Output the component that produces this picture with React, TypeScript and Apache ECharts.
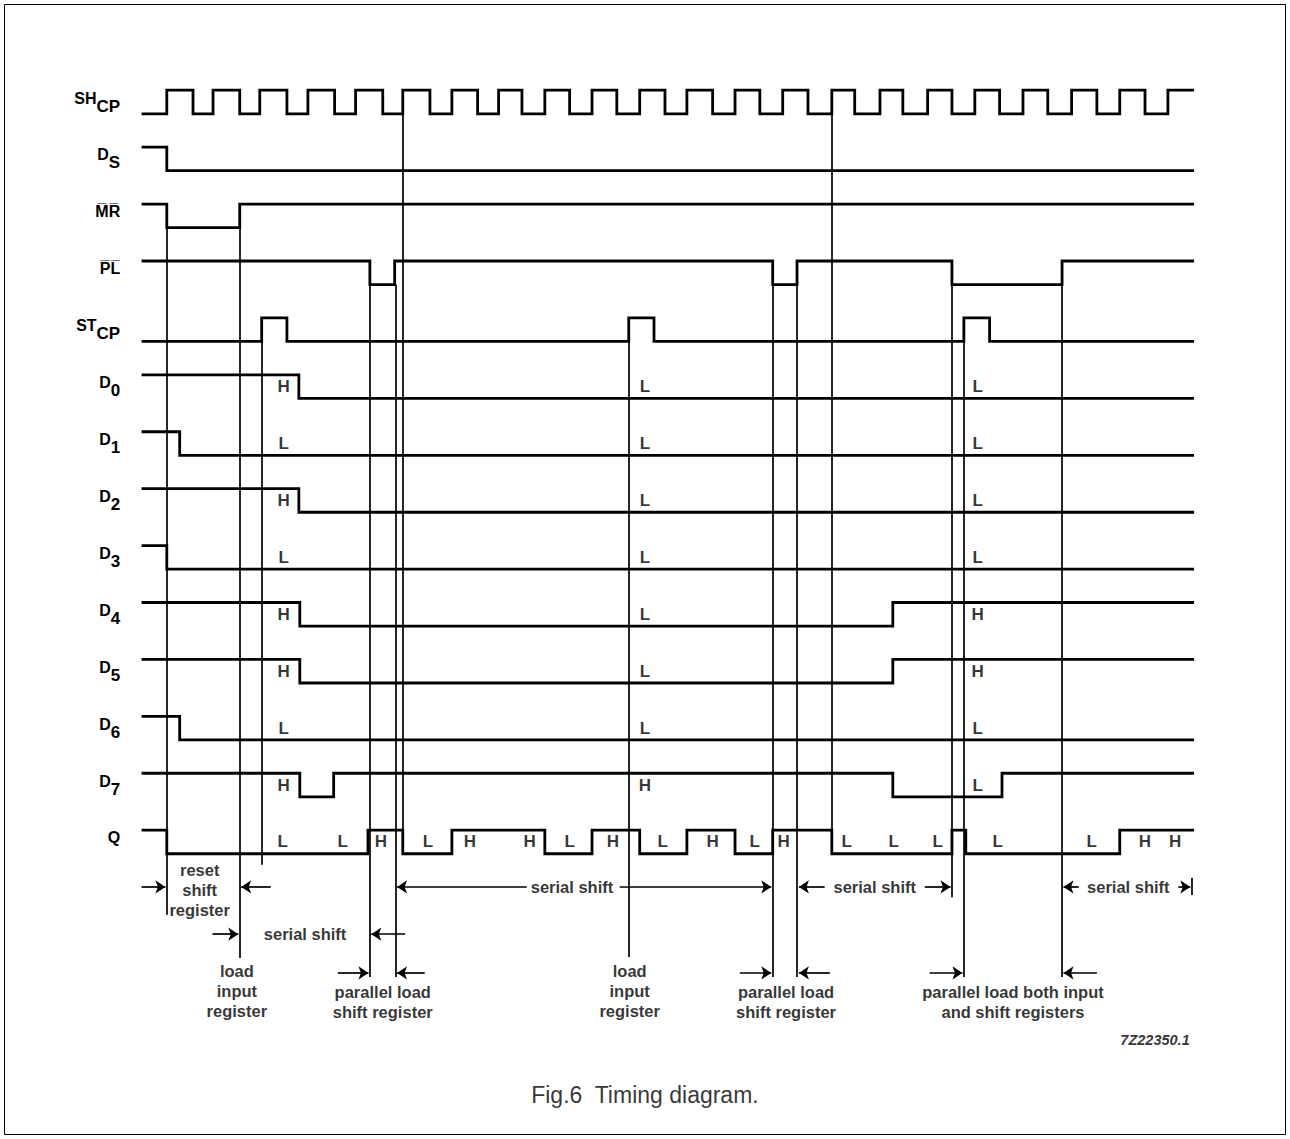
import React, { useEffect, useRef } from 'react';
import * as echarts from 'echarts';

// ---------- time / row layout (time in clock periods, rows = signal index) ----------
const T_START = 0.5;
const T_END = 22.52;
const AMP = 0.207;

const SIGNAL_LABELS = [
  '{m|SH}{s|CP}',
  '{m|D}{s|S}',
  '{m|M\u0305R\u0305}',
  '{m|P\u0305L\u0305}',
  '{m|ST}{s|CP}',
  '{m|D}{s|0}',
  '{m|D}{s|1}',
  '{m|D}{s|2}',
  '{m|D}{s|3}',
  '{m|D}{s|4}',
  '{m|D}{s|5}',
  '{m|D}{s|6}',
  '{m|D}{s|7}',
  '{m|Q}',
];

const START_LEVELS = [0, 1, 1, 1, 0, 1, 1, 1, 1, 1, 1, 1, 1, 1];

const CLOCK_RISES = [1, 1.97, 2.95, 3.96, 4.96, 5.95, 6.98, 7.96, 8.93, 9.92, 10.92, 11.91, 12.92, 13.92, 14.95, 15.96, 16.96, 17.95, 18.96, 19.98, 20.99, 22.0];
const CLOCK_FALLS = [1.55, 2.53, 3.52, 4.52, 5.53, 6.52, 7.52, 8.45, 9.45, 10.44, 11.45, 12.45, 13.44, 14.45, 15.43, 16.44, 17.47, 18.47, 19.48, 20.51, 21.52];
const DS_EDGES = [1.0];
const MR_EDGES = [1.0, 2.53];
const PL_EDGES = [5.26, 5.78, 13.71, 14.22, 17.47, 19.78];
const STCP_EDGES = [2.99, 3.52, 10.69, 11.22, 17.72, 18.26];
const D0_EDGES = [3.77];
const D1_EDGES = [1.27];
const D2_EDGES = [3.77];
const D3_EDGES = [1.0];
const D4_EDGES = [3.79, 16.23];
const D5_EDGES = [3.79, 16.23];
const D6_EDGES = [1.27];
const D7_EDGES = [3.79, 4.5, 16.23, 18.52];
const Q_EDGES = [1.0, 5.22, 5.95, 6.98, 8.93, 9.92, 10.92, 11.91, 12.92, 13.71, 14.95, 17.47, 17.76, 20.99];

const HL_COLUMNS = [3.45, 11.03, 18.01];
const HL_ROWS = [5, 6, 7, 8, 9, 10, 11, 12];
const HL_VALUES = [
  ['H', 'L', 'L'],
  ['L', 'L', 'L'],
  ['H', 'L', 'L'],
  ['L', 'L', 'L'],
  ['H', 'L', 'H'],
  ['H', 'L', 'H'],
  ['L', 'L', 'L'],
  ['H', 'H', 'L'],
];
const Q_ROW = 13;
const Q_LABEL_TIMES = [3.43, 4.69, 5.49, 6.48, 7.36, 8.61, 9.45, 10.36, 11.4, 12.45, 13.33, 13.94, 15.26, 16.25, 17.17, 18.43, 20.4, 21.52, 22.15];
const Q_LABEL_VALUES = ['L', 'L', 'H', 'L', 'H', 'H', 'L', 'H', 'L', 'H', 'L', 'H', 'L', 'L', 'L', 'L', 'L', 'H', 'H'];

// vertical reference lines: [time, rowTop, rowBottom]
const MARKER_LINES = [
  [1.0, 2.207, 14.28],
  [2.53, 2.207, 15.04],
  [2.99, 4.207, 13.4],
  [5.26, 3.207, 15.37],
  [5.8, 3.207, 15.37],
  [5.95, 0.207, 12.79],
  [10.69, 4.207, 15.02],
  [13.71, 3.207, 15.37],
  [14.22, 3.207, 15.37],
  [14.95, 0.207, 12.79],
  [17.47, 3.207, 13.97],
  [17.72, 4.207, 15.37],
  [19.78, 3.207, 15.37],
  [22.5, 13.63, 13.93],
];

// arrows: [timeFrom, timeTo (head), row]
const ARROWS = [
  [0.47, 0.97, 13.79],
  [3.18, 2.56, 13.79],
  [1.96, 2.5, 14.62],
  [6.0, 5.29, 14.62],
  [4.59, 5.23, 15.3],
  [6.41, 5.83, 15.3],
  [8.55, 5.83, 13.79],
  [10.5, 13.68, 13.79],
  [14.8, 14.26, 13.79],
  [16.9, 17.44, 13.79],
  [20.13, 19.81, 13.79],
  [22.22, 22.47, 13.79],
  [13.02, 13.68, 15.3],
  [14.91, 14.26, 15.3],
  [17.0, 17.69, 15.3],
  [20.51, 19.81, 15.3],
];

// annotation texts: [time, row, text]
const NOTES = [
  [1.69, 13.84, 'reset\nshift\nregister'],
  [3.9, 14.62, 'serial shift'],
  [2.47, 15.62, 'load\ninput\nregister'],
  [5.53, 15.81, 'parallel load\nshift register'],
  [9.5, 13.79, 'serial shift'],
  [10.71, 15.62, 'load\ninput\nregister'],
  [13.99, 15.81, 'parallel load\nshift register'],
  [15.85, 13.79, 'serial shift'],
  [21.17, 13.79, 'serial shift'],
  [18.75, 15.81, 'parallel load both input\nand shift registers'],
];
const CODE_NOTE = [21.73, 16.48, '7Z22350.1'];
const CAPTION = [11.03, 17.45, 'Fig.6  Timing diagram.'];

const SIGNAL_EDGES = [
  null, DS_EDGES, MR_EDGES, PL_EDGES, STCP_EDGES, D0_EDGES, D1_EDGES, D2_EDGES,
  D3_EDGES, D4_EDGES, D5_EDGES, D6_EDGES, D7_EDGES, Q_EDGES,
];

function clockEdges(): number[] {
  return [...CLOCK_RISES, ...CLOCK_FALLS].sort((a, b) => a - b);
}

function stepData(row: number, start: number, edges: number[]) {
  const y = (lvl: number) => (lvl ? row - AMP : row + AMP);
  let cur = start;
  const pts: number[][] = [[T_START, y(cur)]];
  edges.forEach((t) => {
    pts.push([t, y(cur)]);
    cur = cur ? 0 : 1;
    pts.push([t, y(cur)]);
  });
  pts.push([T_END, y(cur)]);
  return pts;
}

const FONT = 'Liberation Sans';

export default function App() {
  const ref = useRef<HTMLDivElement>(null);
  useEffect(() => {
    if (!ref.current) return;
    const chart = echarts.init(ref.current, undefined, { renderer: 'svg' });

    const signalSeries = SIGNAL_LABELS.map((_, i) => ({
      type: 'line',
      name: 'sig' + i,
      data: stepData(i, START_LEVELS[i], i === 0 ? clockEdges() : (SIGNAL_EDGES[i] as number[])),
      showSymbol: false,
      symbol: 'none',
      lineStyle: { color: '#000', width: 2.8, cap: 'square', join: 'miter' },
      clip: false,
      silent: true,
      z: 3,
    }));

    const hlData: any[] = [];
    HL_ROWS.forEach((r, ri) => {
      HL_COLUMNS.forEach((t, ci) => {
        hlData.push({ value: [t, r], name: HL_VALUES[ri][ci] });
      });
    });
    Q_LABEL_TIMES.forEach((t, i) => hlData.push({ value: [t, Q_ROW], name: Q_LABEL_VALUES[i] }));

    const textLabel = (extra: any) => ({
      show: true,
      position: 'inside',
      formatter: '{b}',
      color: '#000',
      fontFamily: FONT,
      fontWeight: 'bold',
      fontSize: 16,
      lineHeight: 20,
      align: 'center',
      verticalAlign: 'middle',
      ...extra,
    });

    const option: any = {
      animation: false,
      backgroundColor: '#fff',
      grid: { left: 138.2, top: 45.08, width: 1058.3, height: 1081.5, containLabel: false },
      xAxis: {
        type: 'value',
        min: 0.4,
        max: 22.6,
        show: false,
      },
      yAxis: {
        type: 'value',
        inverse: true,
        min: -1,
        max: 18,
        interval: 1,
        axisLine: { show: false },
        axisTick: { show: false },
        splitLine: { show: false },
        axisLabel: {
          margin: 18,
          color: '#000',
          formatter: (v: number) => (v >= 0 && v < SIGNAL_LABELS.length ? SIGNAL_LABELS[v] : ''),
          rich: {
            m: { fontFamily: FONT, fontWeight: 'bold', fontSize: 16, color: '#000', padding: [0, 0, 8, 0] },
            s: { fontFamily: FONT, fontWeight: 'bold', fontSize: 17, color: '#000', padding: [8, 0, 0, 0] },
          },
        },
      },
      graphic: [
        {
          type: 'rect',
          shape: { x: 4.5, y: 4.5, width: 1281, height: 1130 },
          style: { fill: 'none', stroke: '#000', lineWidth: 1 },
          silent: true,
        },
      ],
      series: [
        ...signalSeries,
        {
          type: 'lines',
          coordinateSystem: 'cartesian2d',
          polyline: false,
          silent: true,
          lineStyle: { color: '#000', width: 1.7, opacity: 1, curveness: 0 },
          data: MARKER_LINES.map(([t, r1, r2]) => ({ coords: [[t, r1], [t, r2]] })),
          z: 2,
        },
        {
          type: 'lines',
          coordinateSystem: 'cartesian2d',
          polyline: false,
          silent: true,
          symbol: ['none', 'arrow'],
          symbolSize: 10,
          lineStyle: { color: '#000', width: 1.7, opacity: 1, curveness: 0 },
          data: ARROWS.map(([a, b, r]) => ({ coords: [[a, r], [b, r]] })),
          z: 2,
        },
        {
          type: 'scatter',
          silent: true,
          symbolSize: 0,
          data: hlData,
          label: textLabel({ fontSize: 17 }),
          z: 4,
        },
        {
          type: 'scatter',
          silent: true,
          symbolSize: 0,
          data: NOTES.map(([t, r, s]) => ({ value: [t, r], name: s })),
          label: textLabel({ fontSize: 16.5, lineHeight: 20 }),
          z: 4,
        },
        {
          type: 'scatter',
          silent: true,
          symbolSize: 0,
          data: [{ value: [CODE_NOTE[0], CODE_NOTE[1]], name: CODE_NOTE[2] }],
          label: textLabel({ fontSize: 14.5, fontStyle: 'italic' }),
          z: 4,
        },
        {
          type: 'scatter',
          silent: true,
          symbolSize: 0,
          data: [{ value: [CAPTION[0], CAPTION[1]], name: CAPTION[2] }],
          label: textLabel({ fontSize: 23, fontWeight: 'normal', fontFamily: 'Liberation Sans' }),
          z: 4,
        },
      ],
    };
    chart.setOption(option);
    return () => chart.dispose();
  }, []);

  return (
    <div
      ref={ref}
      style={{ position: 'absolute', left: 0, top: 0, width: 1290, height: 1139, background: '#fff' }}
    />
  );
}
